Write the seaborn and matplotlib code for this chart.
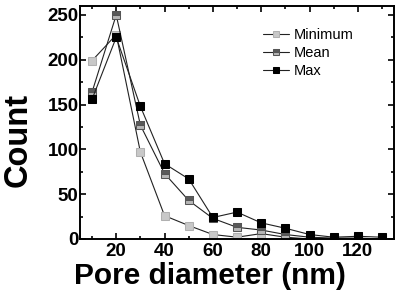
import pandas as pd
import matplotlib.pyplot as plt
import seaborn as sns
from matplotlib.ticker import MultipleLocator

# Pore size distribution data
diameter = [10, 20, 30, 40, 50, 60, 70, 80, 90, 100, 110, 120, 130]
minimum = [199, 228, 97, 26, 15, 5, 2, 6, 2, 0, 0, 0, 0]
mean = [164, 250, 127, 73, 43, 23, 13, 10, 5, 2, 1, 1, 0]
maximum = [156, 225, 148, 84, 67, 24, 30, 18, 12, 5, 2, 3, 2]

df = pd.DataFrame({'Pore diameter': diameter, 'Minimum': minimum,
                   'Mean': mean, 'Max': maximum})

sns.set_style('ticks')
plt.rcParams['font.family'] = ['Liberation Sans', 'DejaVu Sans']
plt.rcParams['font.weight'] = 'bold'
plt.rcParams['text.color'] = 'black'
plt.rcParams['axes.labelcolor'] = 'black'
plt.rcParams['xtick.color'] = 'black'
plt.rcParams['ytick.color'] = 'black'
plt.rcParams['axes.edgecolor'] = 'black'

fig = plt.figure(figsize=(4.05, 2.99), dpi=100)
ax = fig.add_axes([0.1975, 0.2007, 0.7755, 0.7793])

styles = {
    'Minimum': dict(markerfacecolor='#c8c8c8', markeredgecolor='#b0b0b0'),
    'Mean': dict(markerfacecolor='#5a5a5a', markerfacecoloralt='#b5b5b5',
                 fillstyle='top', markeredgecolor='#555555'),
    'Max': dict(markerfacecolor='black', markeredgecolor='black'),
}
for name in ['Minimum', 'Mean', 'Max']:
    sns.lineplot(x='Pore diameter', y=name, data=df, ax=ax, color='#222222',
                 linewidth=0.8, marker='s', markersize=5.5, label=name,
                 **styles[name])

ax.set_xlim(5, 135)
ax.set_ylim(0, 260)
ax.xaxis.set_major_locator(MultipleLocator(20))
ax.xaxis.set_minor_locator(MultipleLocator(10))
ax.yaxis.set_major_locator(MultipleLocator(50))
ax.yaxis.set_minor_locator(MultipleLocator(25))
ax.set_xticks([20, 40, 60, 80, 100, 120])
ax.tick_params(which='both', direction='in', top=True, right=True, width=1.2)
ax.tick_params(which='major', length=4, labelsize=13.5, pad=3)
ax.tick_params(which='minor', length=2.5)
ax.tick_params(axis='x', labeltop=False)
ax.tick_params(axis='y', labelright=False, pad=1)
for s in ax.spines.values():
    s.set_linewidth(1.4)
for lbl in ax.get_xticklabels() + ax.get_yticklabels():
    lbl.set_fontweight('bold')

ax.set_xlabel('Pore diameter (nm)', fontsize=21.5, fontweight='bold')
ax.set_ylabel('Count', fontsize=23.5, fontweight='bold')
ax.xaxis.set_label_coords(0.414, -0.1)
ax.yaxis.set_label_coords(-0.148, 0.425)

leg = ax.legend(loc='upper left', bbox_to_anchor=(0.563, 0.93), frameon=False,
                fontsize=10.5, handlelength=1.8, handletextpad=0.3,
                labelspacing=0.28, borderaxespad=0, markerscale=0.85)
for t in leg.get_texts():
    t.set_fontweight('normal')

plt.savefig('out.png', dpi=100)
